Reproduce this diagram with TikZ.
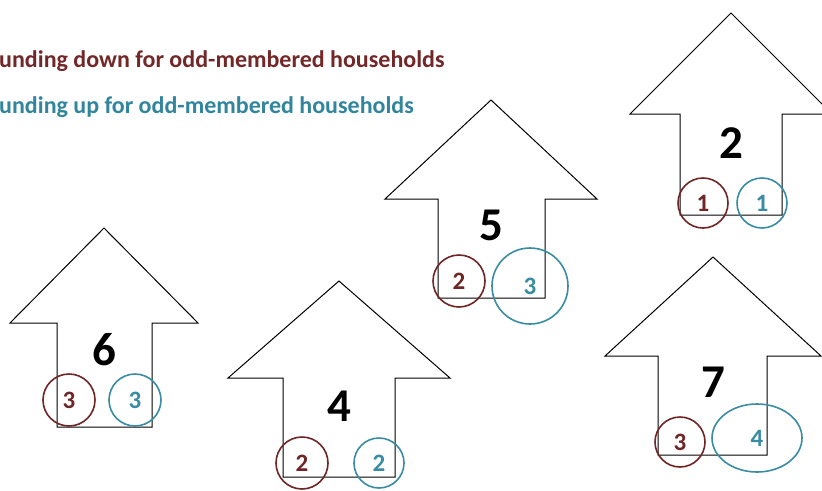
\documentclass[tikz,border=0pt]{standalone}
\usepackage{fontspec}
\setmainfont{Carlito}
\usetikzlibrary{shapes.geometric}
\definecolor{rdown}{RGB}{114,40,40}
\definecolor{rup}{RGB}{49,133,156}
\definecolor{cdown}{RGB}{110,38,38}
\definecolor{cup}{RGB}{58,140,162}
\tikzset{
  house/.style={draw=black, line width=1pt, fill=white, line join=miter},
  bignum/.style={font=\fontsize{47}{47}\selectfont\bfseries, inner sep=0pt},
  downc/.style={ellipse, draw=cdown, line width=1.6pt, inner sep=0pt, text=cdown,
     font=\fontsize{25}{25}\selectfont\bfseries},
  upc/.style={ellipse, draw=cup, line width=1.6pt, inner sep=0pt, text=cup,
     font=\fontsize{25}{25}\selectfont\bfseries},
  legend/.style={anchor=west, inner sep=0pt, font=\fontsize{24}{24}\selectfont\bfseries}
}
% #1 apex x, #2 apex y, #3 eave y, #4 half roof width, #5 body left, #6 body right, #7 bottom
\newcommand{\houseshape}[7]{%
  \draw[house] (#1,#2) -- (#1+#4,#3) -- (#6,#3) -- (#6,#7) -- (#5,#7) -- (#5,#3) -- (#1-#4,#3) -- cycle;}
\begin{document}
\begin{tikzpicture}[x=1pt,y=-1pt]
\useasboundingbox (0,0) rectangle (822,490);
\fill[white] (0,0) rectangle (822,490);

\node[legend, text=rdown] (ldown) at (-1,61) {unding down for odd-membered households};
\node[legend, text=rup] (lup) at (-1,107) {unding up for odd-membered households};

% houses
\houseshape{104}{228}{323}{94}{57}{152}{427}
\houseshape{339}{281}{378}{111}{283}{395}{477}
\houseshape{491}{100}{199}{106}{438}{545}{298}
\houseshape{731}{13}{114}{101}{680}{782}{215}
\houseshape{713}{257}{356}{108}{658}{767}{455}

% big numbers
\node[bignum] (n6) at (104,350) {6};
\node[bignum] (n4) at (339,406) {4};
\node[bignum] (n5) at (491,225) {5};
\node[bignum] (n2) at (731,143) {2};
\node[bignum] (n7) at (713,382) {7};

% circles
\node[downc, minimum width=52pt, minimum height=52pt] (d6) at (69,400) {3};
\node[upc, minimum width=52pt, minimum height=52pt] (u6) at (135,400) {3};
\node[downc, minimum width=52pt, minimum height=52pt] (d4) at (302,463) {2};
\node[upc, minimum width=50pt, minimum height=50pt] (u4) at (379,463) {2};
\node[downc, minimum width=52pt, minimum height=52pt] (d5) at (459,281) {2};
\node[upc, minimum width=76pt, minimum height=76pt] (u5) at (530,286) {3};
\node[downc, minimum width=50pt, minimum height=50pt] (d2) at (703,203) {1};
\node[upc, minimum width=50pt, minimum height=50pt] (u2) at (762,203) {1};
\node[downc, minimum width=50pt, minimum height=50pt] (d7) at (680,442) {3};
\node[upc, minimum width=90pt, minimum height=68pt] (u7) at (757,438) {4};

\end{tikzpicture}
\end{document}
